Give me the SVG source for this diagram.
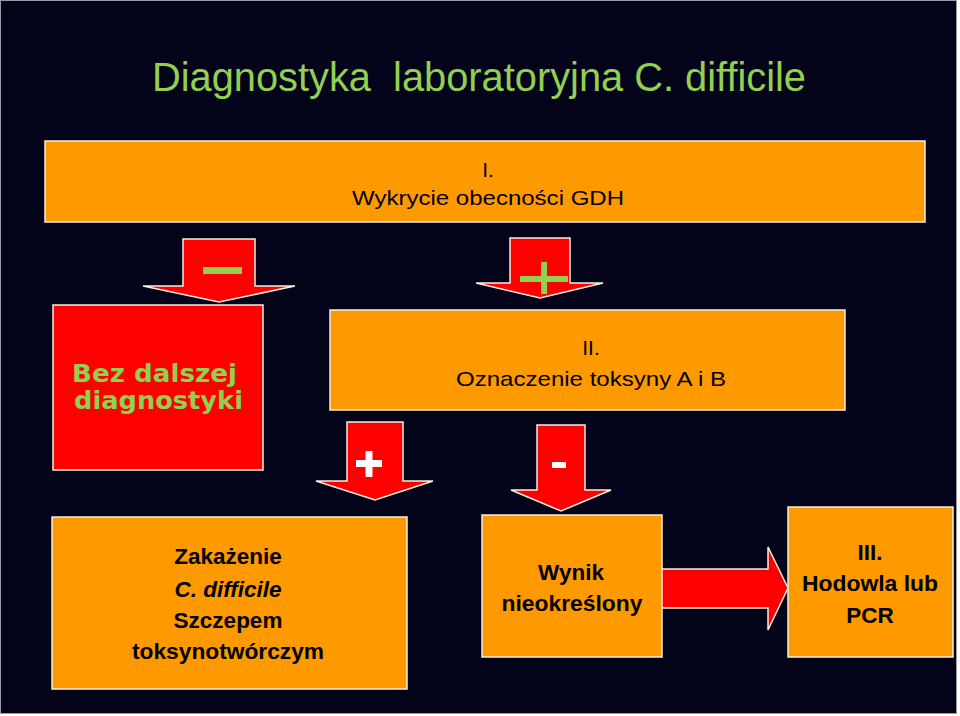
<svg xmlns="http://www.w3.org/2000/svg" width="960" height="716" viewBox="0 0 960 716">
<defs>
<style>
.box{fill:#FF9900;stroke:#F4EFE0;stroke-width:1.5}
.red{fill:#FF0000;stroke:#F4EFE0;stroke-width:1.5}
.arr{fill:#FF0000;stroke:#F4EFE0;stroke-width:1.5;stroke-linejoin:miter}
.t{font-family:"Liberation Sans",Arial,sans-serif;fill:#000;text-anchor:middle}
.b{font-weight:bold}
.g{fill:#92D050}
.w{fill:#FFFFFF}
</style>
</defs>
<rect x="0" y="0" width="960" height="716" fill="#FFFFFF"/>
<rect x="0.5" y="0.5" width="956" height="713" fill="#03031A" stroke="#9a9aa4" stroke-width="1"/>
<text x="479" y="91" class="t g" font-size="40" textLength="654" lengthAdjust="spacingAndGlyphs" xml:space="preserve">Diagnostyka  laboratoryjna C. difficile</text>

<g id="connectors">
<polygon class="arr" points="183,239 255,239 255,286 295,286 219,302 143,286 183,286"/>
<polygon class="arr" points="510,238 570,238 570,283 603,283 540,298 476,283 510,283"/>
<polygon class="arr" points="347,422 403,422 403,481 433,481 375,500 316,481 347,481"/>
<polygon class="arr" points="537,425 585,425 585,490 611,490 561,511 511,490 537,490"/>
<polygon class="arr" points="661,569 768,569 768,547 788,588 768,630 768,608 661,608"/>
<rect x="203" y="267" width="39" height="7" class="g"/>
<rect x="520" y="276" width="48" height="6" class="g"/>
<rect x="541" y="262" width="6" height="32" class="g"/>
<rect x="356" y="460" width="26" height="7" class="w"/>
<rect x="365.5" y="451" width="7" height="26" class="w"/>
<rect x="552" y="462" width="14" height="6" class="w"/>
</g>

<g id="node-gdh">
<rect x="45" y="141" width="880" height="81" class="box"/>
<text x="488" y="177" class="t" font-size="21">I.</text>
<text x="488" y="205" class="t" font-size="21" textLength="272" lengthAdjust="spacingAndGlyphs">Wykrycie obecności GDH</text>
</g>

<g id="node-bez">
<rect x="53" y="305" width="210" height="165" class="red"/>
<text x="72" y="382" font-family="'DejaVu Sans',Verdana,sans-serif" font-weight="bold" font-size="24" class="g" textLength="165" lengthAdjust="spacingAndGlyphs">Bez dalszej</text>
<text x="74" y="409" font-family="'DejaVu Sans',Verdana,sans-serif" font-weight="bold" font-size="24" class="g" textLength="169" lengthAdjust="spacingAndGlyphs">diagnostyki</text>
</g>

<g id="node-toksyny">
<rect x="330" y="310" width="515" height="100" class="box"/>
<text x="591" y="355" class="t" font-size="21">II.</text>
<text x="591" y="386" class="t" font-size="21" textLength="270" lengthAdjust="spacingAndGlyphs">Oznaczenie toksyny A i B</text>
</g>

<g id="node-zakazenie">
<rect x="52" y="517" width="355" height="172" class="box"/>
<text x="228" y="564" class="t b" font-size="22.5">Zakażenie</text>
<text x="228" y="597" class="t b" font-size="22.5" font-style="italic">C. difficile</text>
<text x="228" y="628" class="t b" font-size="22.5">Szczepem</text>
<text x="228" y="659" class="t b" font-size="22.5" textLength="192" lengthAdjust="spacingAndGlyphs">toksynotwórczym</text>
</g>

<g id="node-wynik">
<rect x="482" y="515" width="180" height="142" class="box"/>
<text x="571" y="580" class="t b" font-size="22.5">Wynik</text>
<text x="572" y="611" class="t b" font-size="22.5" textLength="141" lengthAdjust="spacingAndGlyphs">nieokreślony</text>
</g>

<g id="node-hodowla">
<rect x="788" y="507" width="165" height="150" class="box"/>
<text x="870" y="560" class="t b" font-size="22.5">III.</text>
<text x="870" y="591" class="t b" font-size="22.5" textLength="136" lengthAdjust="spacingAndGlyphs">Hodowla lub</text>
<text x="870" y="623" class="t b" font-size="22.5">PCR</text>
</g>
</svg>
